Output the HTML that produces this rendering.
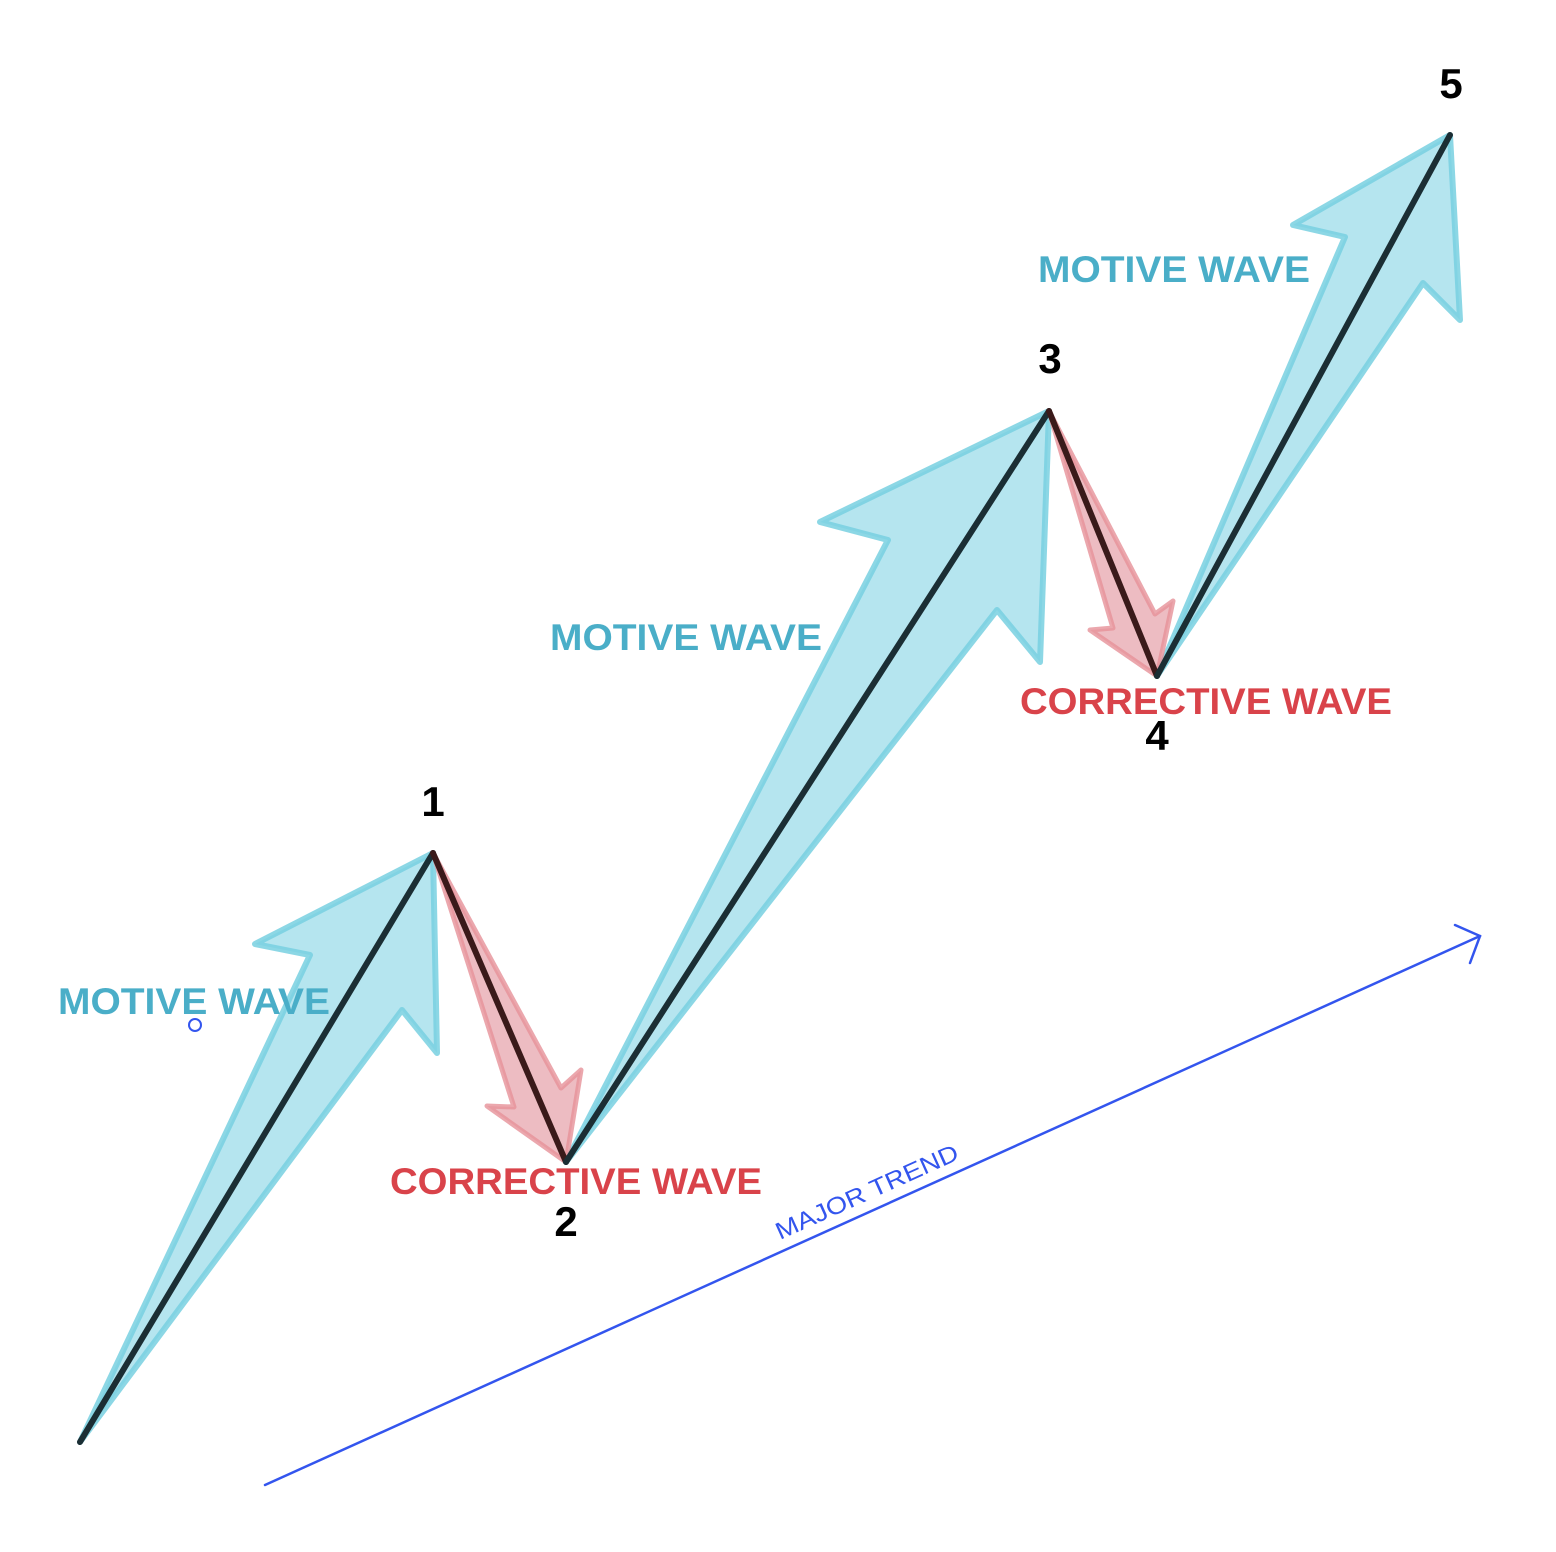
<!DOCTYPE html>
<html><head><meta charset="utf-8"><style>
html,body{margin:0;padding:0;background:#fff;}
svg{display:block;}
text{font-family:"Liberation Sans",sans-serif;font-weight:bold;}
</style></head><body>
<svg width="1556" height="1552" viewBox="0 0 1556 1552">
<g>
<polygon points="80,1442 310,955 255,944 433,853 437,1053 402,1010" fill="rgba(150,218,232,0.7)" stroke="rgba(120,208,225,0.85)" stroke-width="6" stroke-linejoin="round"/>
</g>
<g>
<polygon points="566,1162 888,540 820,522 1049,411 1040,662 997,610" fill="rgba(150,218,232,0.7)" stroke="rgba(120,208,225,0.85)" stroke-width="6" stroke-linejoin="round"/>
</g>
<g>
<polygon points="1157,676 1345,237 1293,225 1450,135 1460,320 1423,283" fill="rgba(150,218,232,0.7)" stroke="rgba(120,208,225,0.85)" stroke-width="6" stroke-linejoin="round"/>
</g>
<g>
<polygon points="433,853 514,1107 487,1106 566,1162 581,1070 561,1088" fill="rgba(230,160,168,0.7)" stroke="rgba(230,145,152,0.8)" stroke-width="5" stroke-linejoin="round"/>
</g>
<g>
<polygon points="1049,411 1113,628 1090,630 1157,676 1173,601 1155,614" fill="rgba(230,160,168,0.7)" stroke="rgba(230,145,152,0.8)" stroke-width="5" stroke-linejoin="round"/>
</g>
<g fill="none" stroke-width="6" stroke-linecap="round" stroke-linejoin="round">
<line x1="80" y1="1442" x2="433" y2="853" stroke="#1b2e34"/>
<line x1="433" y1="853" x2="566" y2="1162" stroke="#3a1a1a"/>
<line x1="566" y1="1162" x2="1049" y2="411" stroke="#1b2e34"/>
<line x1="1049" y1="411" x2="1157" y2="676" stroke="#3a1a1a"/>
<line x1="1157" y1="676" x2="1450" y2="135" stroke="#1b2e34"/>
</g>
<text x="58" y="1014" font-size="37" fill="#4aaec8" textLength="272" lengthAdjust="spacingAndGlyphs">MOTIVE WAVE</text>
<text x="550" y="650" font-size="37" fill="#4aaec8" textLength="272" lengthAdjust="spacingAndGlyphs">MOTIVE WAVE</text>
<text x="1038" y="282" font-size="37" fill="#4aaec8" textLength="272" lengthAdjust="spacingAndGlyphs">MOTIVE WAVE</text>
<text x="390" y="1194" font-size="37" fill="#d9434a" textLength="372" lengthAdjust="spacingAndGlyphs">CORRECTIVE WAVE</text>
<text x="1020" y="714" font-size="37" fill="#d9434a" textLength="372" lengthAdjust="spacingAndGlyphs">CORRECTIVE WAVE</text>
<circle cx="195" cy="1025" r="6" fill="none" stroke="#3355ee" stroke-width="2"/>
<text x="433" y="816" font-size="42" fill="#000" text-anchor="middle">1</text>
<text x="566" y="1236" font-size="42" fill="#000" text-anchor="middle">2</text>
<text x="1050" y="373" font-size="42" fill="#000" text-anchor="middle">3</text>
<text x="1157" y="750" font-size="42" fill="#000" text-anchor="middle">4</text>
<text x="1451" y="98" font-size="42" fill="#000" text-anchor="middle">5</text>
<g stroke="#3355ee" stroke-width="2.5" fill="none" stroke-linecap="round">
<line x1="265" y1="1485" x2="1480" y2="936"/>
<polyline points="1455,925 1480,936 1470,963"/>
</g>
<text x="0" y="0" font-size="24" style="font-weight:normal" fill="#3355ee" textLength="198" lengthAdjust="spacingAndGlyphs" transform="translate(780,1240) rotate(-24.3)">MAJOR TREND</text>
</svg>
</body></html>
